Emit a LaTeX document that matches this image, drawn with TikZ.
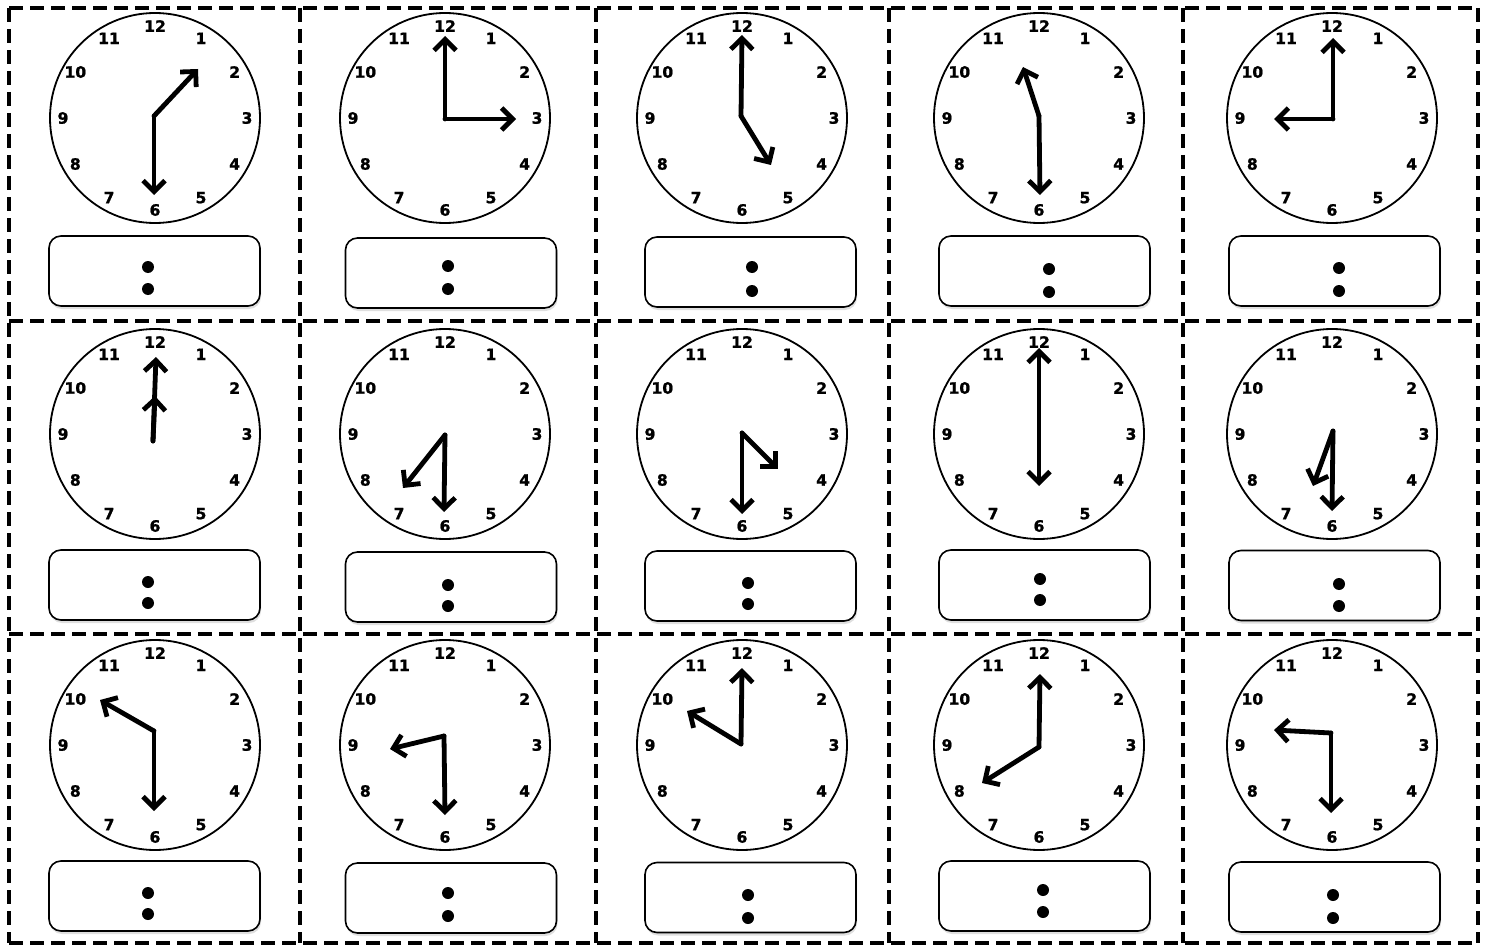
\documentclass[tikz,border=0pt]{standalone}
\usepackage{fontspec}
\newfontfamily\dialfont[FakeBold=1.2]{DejaVu Sans Bold}
\usetikzlibrary{arrows.meta,calc,shadows}
\tikzset{
  cutline/.style={line width=2.4pt, dash pattern=on 7pt off 3.5pt},
  face/.style={circle, draw, line width=0.9pt, minimum size=105pt, inner sep=0pt},
  numeral/.style={font=\dialfont\fontsize{7.8}{9}\selectfont, inner sep=0pt},
  hand/.style={line width=2.4pt, line cap=round,
               -{Straight Barb[length=5.5pt, width=11pt, line width=2.4pt]}},
  timebox/.style={draw, rounded corners=6pt, line width=0.8pt, fill=white,
                  minimum width=105.5pt, minimum height=35pt, inner sep=0pt,
                  drop shadow={opacity=0.25, shadow xshift=0.5pt, shadow yshift=-1.5pt}},
  dot/.style={circle, fill, minimum size=6pt, inner sep=0pt},
}
% face with its twelve numerals: name, x, y (pixels, y down)
\newcommand{\clockface}[3]{%
  \node[face] (#1) at (#2,#3) {};
  \foreach \h in {1,...,12}
    \node[numeral] (#1-n\h) at ($(#1)+({92*sin(30*\h)},{-92*cos(30*\h)})$) {\h};
}
% hands: name, junction, minute tip, hour tip (offsets from the centre)
\newcommand{\clockhands}[7]{%
  \coordinate (#1-j) at ($(#1)+(#2,#3)$);
  \coordinate (#1-m) at ($(#1)+(#4,#5)$);
  \coordinate (#1-h) at ($(#1)+(#6,#7)$);
  \draw[hand] (#1-j) -- (#1-m);
  \draw[hand] (#1-j) -- (#1-h);
}
% answer box with the colon: name, x, y, dot x, dot y top, dot y bottom
\newcommand{\answerbox}[6]{%
  \node[timebox] (#1) at (#2,#3) {};
  \node[dot] (#1-a) at (#4,#5) {};
  \node[dot] (#1-b) at (#4,#6) {};
}

\begin{document}
\begin{tikzpicture}[x=0.5pt, y=-0.5pt]
\useasboundingbox (0,0) rectangle (1489,947);

%% ── cutting grid ──────────────────────────────────────────────
\foreach \gx in {9,300,596,889,1183,1478}
  \draw[cutline] (\gx,8) -- (\gx,943);
\foreach \gy in {8,321,634,943}
  \draw[cutline] (9,\gy) -- (1478,\gy);

%% ── row 1 ─────────────────────────────────────────────────────
\clockface{c11}{155}{118}  \clockhands{c11}{-1}{-2}{-1}{77}{43}{-49}
\clockface{c12}{445}{118}  \clockhands{c12}{0}{1}{0}{-82}{71}{1}
\clockface{c13}{742}{118}  \clockhands{c13}{-1}{-2}{0}{-83}{29}{47}
\clockface{c14}{1039}{118} \clockhands{c14}{0}{-2}{1}{77}{-16}{-51}
\clockface{c15}{1332}{118} \clockhands{c15}{1}{1}{1}{-80}{-58}{1}

\answerbox{b11}{154.5}{271}{148}{267}{289}
\answerbox{b12}{451}{273}{448}{266}{289}
\answerbox{b13}{750.5}{272}{752}{267}{291}
\answerbox{b14}{1044.5}{271}{1049}{269}{292}
\answerbox{b15}{1334.5}{271}{1339}{268}{291}

%% ── row 2 ─────────────────────────────────────────────────────
\clockface{c21}{155}{434}  \clockhands{c21}{-2}{7}{1}{-77}{0}{-38}
\clockface{c22}{445}{434}  \clockhands{c22}{0}{1}{-1}{78}{-42}{54}
\clockface{c23}{742}{434}  \clockhands{c23}{0}{-1}{0}{80}{36}{35}
\clockface{c24}{1039}{434} \clockhands{c24}{0}{-2}{0}{-86}{0}{52}
\clockface{c25}{1332}{434} \clockhands{c25}{1}{-3}{0}{77}{-19}{52}

\answerbox{b21}{154.5}{585}{148}{582}{603}
\answerbox{b22}{451}{587}{448}{585}{606}
\answerbox{b23}{750.5}{586}{748}{583}{604}
\answerbox{b24}{1044.5}{585}{1040}{579}{600}
\answerbox{b25}{1334.5}{585.5}{1339}{584}{606}

%% ── row 3 ─────────────────────────────────────────────────────
\clockface{c31}{155}{745}  \clockhands{c31}{-1}{-14}{-1}{66}{-55}{-45}
\clockface{c32}{445}{745}  \clockhands{c32}{-1}{-9}{0}{70}{-55}{4}
\clockface{c33}{742}{745}  \clockhands{c33}{-1}{-1}{0}{-77}{-55}{-34}
\clockface{c34}{1039}{745} \clockhands{c34}{0}{2}{1}{-71}{-57}{38}
\clockface{c35}{1332}{745} \clockhands{c35}{-1}{-12}{-1}{68}{-58}{-15}

\answerbox{b31}{154.5}{896}{148}{893}{914}
\answerbox{b32}{451}{898}{448}{893}{916}
\answerbox{b33}{750.5}{897.5}{748}{895}{918}
\answerbox{b34}{1044.5}{896}{1043}{890}{912}
\answerbox{b35}{1334.5}{897}{1333}{895}{918}

\end{tikzpicture}
\end{document}
